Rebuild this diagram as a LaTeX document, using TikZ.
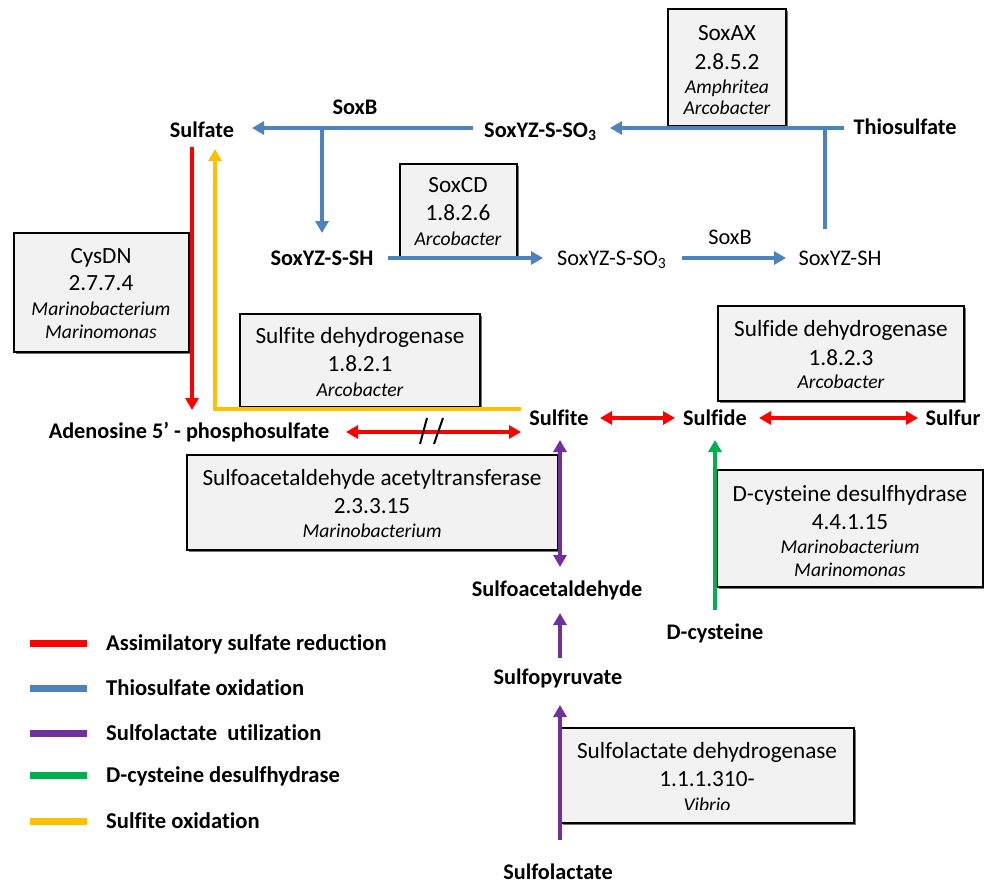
\documentclass[tikz,border=0pt]{standalone}
\usepackage{fontspec}
\setmainfont[Ligatures=NoCommon]{Carlito}
\usetikzlibrary{arrows.meta}
\definecolor{cred}{HTML}{FF0000}
\definecolor{cblue}{HTML}{4F81BD}
\definecolor{cpurple}{HTML}{7030A0}
\definecolor{cgreen}{HTML}{00B050}
\definecolor{cyellow}{HTML}{FFC000}
\definecolor{boxgray}{HTML}{F2F2F2}
\begin{document}
\begin{tikzpicture}[x=1pt,y=-1pt,
  met/.style={font=\fontsize{22.3}{26}\selectfont\bfseries, inner sep=0pt, anchor=base},
  metr/.style={font=\fontsize{22.3}{26}\selectfont, inner sep=0pt, anchor=base},
  etxt/.style={font=\fontsize{23.2}{27}\selectfont, inner sep=0pt, anchor=base},
  sp/.style={font=\fontsize{19.6}{23}\selectfont\itshape, inner sep=0pt, anchor=base},
  enzbox/.style={draw=black, line width=1.3pt, fill=boxgray},
  shadowbox/.style={fill=black!55},
  flow/.style={line width=4pt},
  tipend/.style={-{Triangle[length=12pt,width=13pt]}},
  tipboth/.style={{Triangle[length=12pt,width=13pt]}-{Triangle[length=12pt,width=13pt]}},
  legline/.style={line width=7pt},
  legtxt/.style={font=\fontsize{22.6}{26}\selectfont\bfseries, inner sep=0pt, anchor=base west}
]
\useasboundingbox (0,0) rectangle (984,886);

% ---------- enzyme boxes ----------
\foreach \a/\b/\c/\d in {668/9/786/126, 400/164/517/258, 14/233/189/352, 240/314/480/407,
   718/306/964/401, 187/455/558/550, 717/470/983/587, 561/728/854/823}{
  \fill[shadowbox] (\a+2,\b+2) rectangle (\c+2,\d+2);
  \draw[enzbox] (\a,\b) rectangle (\c,\d);
}

% SoxAX
\node[etxt] (axn) at (727,40) {SoxAX};
\node[etxt] (axec) at (727,69) {2.8.5.2};
\node[sp] (axs1) at (727,93) {Amphritea};
\node[sp] (axs2) at (727,114) {Arcobacter};
% SoxCD
\node[etxt] (cdn) at (458,192) {SoxCD};
\node[etxt] (cdec) at (458,220) {1.8.2.6};
\node[sp] (cds) at (458,245) {Arcobacter};
% CysDN
\node[etxt] (cysn) at (101,263) {CysDN};
\node[etxt] (cysec) at (101,290) {2.7.7.4};
\node[sp] (cyss1) at (101,315) {Marinobacterium};
\node[sp] (cyss2) at (101,338) {Marinomonas};
% Sulfite dehydrogenase
\node[etxt] (sdhn) at (360,343) {Sulfite dehydrogenase};
\node[etxt] (sdhec) at (360,371) {1.8.2.1};
\node[sp] (sdhs) at (360,396) {Arcobacter};
% Sulfide dehydrogenase
\node[etxt] (sidn) at (841,336) {Sulfide dehydrogenase};
\node[etxt] (sidec) at (841,365) {1.8.2.3};
\node[sp] (sids) at (841,388) {Arcobacter};
% Sulfoacetaldehyde acetyltransferase
\node[etxt] (saan) at (372,485) {Sulfoacetaldehyde acetyltransferase};
\node[etxt] (saaec) at (372,513) {2.3.3.15};
\node[sp] (saas) at (372,537) {Marinobacterium};
% D-cysteine desulfhydrase
\node[etxt] (dcdn) at (850,501) {D-cysteine desulfhydrase};
\node[etxt] (dcdec) at (850,529) {4.4.1.15};
\node[sp] (dcds1) at (850,553) {Marinobacterium};
\node[sp] (dcds2) at (850,576) {Marinomonas};
% Sulfolactate dehydrogenase
\node[etxt] (sldn) at (707,758) {Sulfolactate dehydrogenase};
\node[etxt] (sldec) at (707,786) {1.1.1.310-};
\begin{scope}
  \clip (561,728) rectangle (854,809);
  \node[sp] (slds) at (707,811) {Vibrio};
\end{scope}

% ---------- metabolites ----------
\node[met] (sulfate) at (202,137) {Sulfate};
\node[met] (soxbA) at (355,114) {SoxB};
\node[met, anchor=base west] (sso3A) at (484,137) {SoxYZ-S-SO\textsubscript{3}};
\node[met] (thio) at (905,134) {Thiosulfate};
\node[met] (ssh) at (322,265) {SoxYZ-S-SH};
\node[metr, anchor=base west] (sso3B) at (557,265) {SoxYZ-S-SO\textsubscript{3}};
\node[metr] (soxbB) at (730,244) {SoxB};
\node[metr] (sh) at (840,265) {SoxYZ-SH};
\node[met] (aps) at (189,438) {Adenosine 5’ - phosphosulfate};
\node[met] (sulfite) at (559,425) {Sulfite};
\node[met] (sulfide) at (715,425) {Sulfide};
\node[met] (sulfur) at (953,425) {Sulfur};
\node[met] (sac) at (557,596) {Sulfoacetaldehyde};
\node[met] (dcys) at (715,639) {D-cysteine};
\node[met] (spyr) at (558,684) {Sulfopyruvate};
\node[met] (slac) at (558,879) {Sulfolactate};

% ---------- connector end points ----------
\coordinate (b1s) at (473,128);  \coordinate (b1e) at (252,128);
\coordinate (b2s) at (322,128);  \coordinate (b2e) at (322,233);
\coordinate (b3s) at (844,128);  \coordinate (b3e) at (610,128);
\coordinate (b4s) at (825,128);  \coordinate (b4e) at (825,229);
\coordinate (b5s) at (388,258);  \coordinate (b5e) at (543,258);
\coordinate (b6s) at (682,258);  \coordinate (b6e) at (786,258);
\coordinate (r1s) at (192,147);  \coordinate (r1e) at (192,410);
\coordinate (r2s) at (346,432);  \coordinate (r2e) at (521,432);
\coordinate (r3s) at (600,418);  \coordinate (r3e) at (675,418);
\coordinate (r4s) at (759,418);  \coordinate (r4e) at (918,418);
\coordinate (y1s) at (521,409);  \coordinate (y1m) at (215,409);  \coordinate (y1e) at (215,149);
\coordinate (p1s) at (560,567);  \coordinate (p1e) at (560,440);
\coordinate (p2s) at (560,658);  \coordinate (p2e) at (560,613);
\coordinate (p3s) at (560,840);  \coordinate (p3e) at (560,705);
\coordinate (g1s) at (715,610);  \coordinate (g1e) at (715,440);

% ---------- connectors ----------
\draw[flow, cblue, tipend] (b1s) -- (b1e);
\draw[flow, cblue, tipend] (b2s) -- (b2e);
\draw[flow, cblue, tipend] (b3s) -- (b3e);
\draw[flow, cblue] (b4s) -- (b4e);
\draw[flow, cblue, tipend] (b5s) -- (b5e);
\draw[flow, cblue, tipend] (b6s) -- (b6e);

\draw[flow, cyellow, tipend] (y1s) -- (y1m) -- (y1e);
\draw[flow, cred, tipend] (r1s) -- (r1e);
\draw[flow, cred, tipboth] (r2s) -- (r2e);
\draw[flow, cred, tipboth] (r3s) -- (r3e);
\draw[flow, cred, tipboth] (r4s) -- (r4e);
\draw[line width=2pt] (427,418) -- (420,444);
\draw[line width=2pt] (443,418) -- (434,444);

\draw[flow, cpurple, tipboth] (p1s) -- (p1e);
\draw[flow, cpurple, tipend] (p2s) -- (p2e);
\draw[flow, cpurple, tipend] (p3s) -- (p3e);
\draw[flow, cgreen, tipend] (g1s) -- (g1e);

% ---------- legend ----------
\draw[legline, cred] (30,643) -- (87,643);
\node[legtxt] (l1) at (106,650) {Assimilatory sulfate reduction};
\draw[legline, cblue] (30,688) -- (87,688);
\node[legtxt] (l2) at (106,695) {Thiosulfate oxidation};
\draw[legline, cpurple] (30,733) -- (87,733);
\node[legtxt] (l3) at (106,740) {Sulfolactate\ \ utilization};
\draw[legline, cgreen] (30,775) -- (87,775);
\node[legtxt] (l4) at (106,782) {D-cysteine desulfhydrase};
\draw[legline, cyellow] (30,821) -- (87,821);
\node[legtxt] (l5) at (106,828) {Sulfite oxidation};
\end{tikzpicture}
\end{document}
